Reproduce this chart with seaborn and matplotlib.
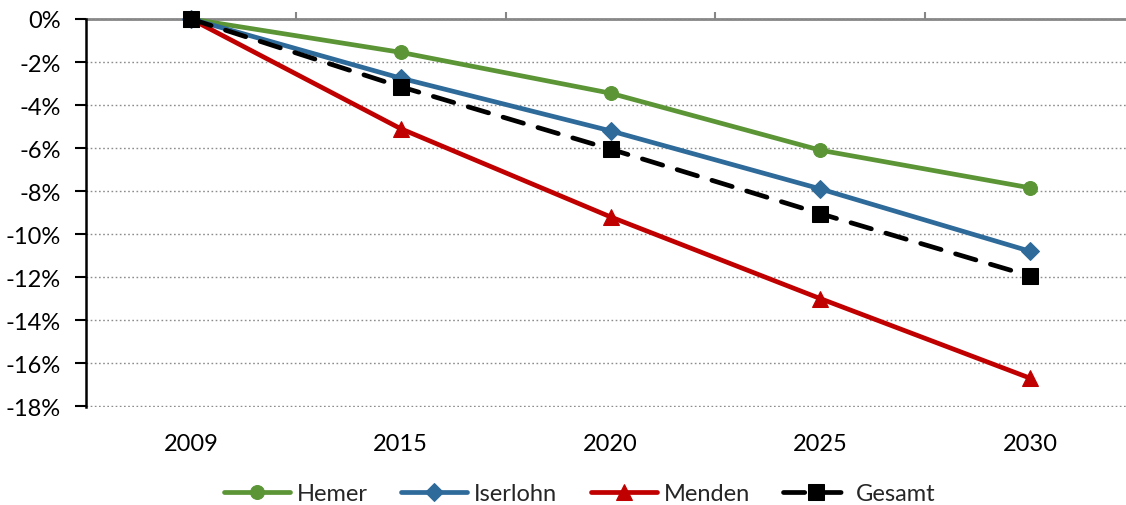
import matplotlib
matplotlib.use("Agg")
import matplotlib.pyplot as plt
import seaborn as sns
import pandas as pd
from matplotlib.ticker import FuncFormatter, MultipleLocator

# Projected population change relative to 2009, in percent
years = ["2009", "2015", "2020", "2025", "2030"]
hemer = [0.0, -1.55, -3.45, -6.1, -7.85]
iserlohn = [0.0, -2.75, -5.2, -7.9, -10.8]
menden = [0.0, -5.1, -9.2, -13.0, -16.7]
gesamt = [0.0, -3.15, -6.05, -9.05, -11.95]

series_names = ["Hemer", "Iserlohn", "Menden", "Gesamt"]
series_values = [hemer, iserlohn, menden, gesamt]

styles = {
    "Hemer": dict(color="#5B9536", marker="o", markersize=10, dashes=None),
    "Iserlohn": dict(color="#2E6A9A", marker="D", markersize=9.5, dashes=None),
    "Menden": dict(color="#C00000", marker="^", markersize=12, dashes=None),
    "Gesamt": dict(color="#000000", marker="s", markersize=11, dashes=(4.5, 3.2)),
}

frames = []
for name, vals in zip(series_names, series_values):
    frames.append(pd.DataFrame({"Jahr": years, "Region": name, "Wert": vals}))
df = pd.concat(frames, ignore_index=True)

sns.set_theme(style="white")
plt.rcParams["font.family"] = ["Lato", "DejaVu Sans"]

fig = plt.figure(figsize=(11.26, 5.06), dpi=100)
ax = fig.add_axes([86 / 1126, 98 / 506, 1049 / 1126, 388 / 506])

for name in series_names:
    st = styles[name]
    sub = df[df["Region"] == name]
    sns.lineplot(
        data=sub, x="Jahr", y="Wert", ax=ax, label=name,
        color=st["color"], marker=st["marker"], markersize=st["markersize"],
        markeredgecolor=st["color"], linewidth=3.4, sort=False,
        clip_on=False, zorder=3,
    )
    line = ax.get_lines()[-1]
    if st["dashes"] is not None:
        line.set_dashes(st["dashes"])
        line.set_dash_capstyle("round")

ax.set_xlim(-0.5, 4.5)
ax.set_ylim(-18.04, 0)
ax.set_xlabel("")
ax.set_ylabel("")

# y axis: percent labels, dotted horizontal grid
ax.yaxis.set_major_locator(MultipleLocator(2))
ax.yaxis.set_major_formatter(FuncFormatter(lambda v, _: f"{v:.0f}%"))
ax.yaxis.grid(True, linestyle=(0, (1.2, 1.8)), color="#8C8C8C", linewidth=1.0)
ax.xaxis.grid(False)
ax.tick_params(axis="y", which="major", direction="out", length=8, width=1.5,
               color="black", labelsize=17, labelcolor="black", pad=10, left=True)
ax.tick_params(axis="x", which="major", length=0, labelsize=17,
               labelcolor="black", pad=19)

for side in ["right", "bottom", "top"]:
    ax.spines[side].set_visible(False)
ax.spines["left"].set_color("black")
ax.spines["left"].set_linewidth(1.8)

# category axis crossing at 0%, with boundary ticks pointing up
top = ax.secondary_xaxis("top")
top.set_xticks([0.5, 1.5, 2.5, 3.5])
top.set_xticklabels([])
top.tick_params(direction="out", length=5, width=1.5, color="#868686")
top.spines["top"].set_color("#868686")
top.spines["top"].set_linewidth(2.0)

handles, labels = ax.get_legend_handles_labels()
ax.get_legend().remove()
fig.legend(handles, labels, loc="center", bbox_to_anchor=(0.515, 0.022),
           ncol=4, frameon=False, fontsize=17, handlelength=2.8,
           handletextpad=0.3, columnspacing=1.4)

fig.savefig("out.png", dpi=100)
